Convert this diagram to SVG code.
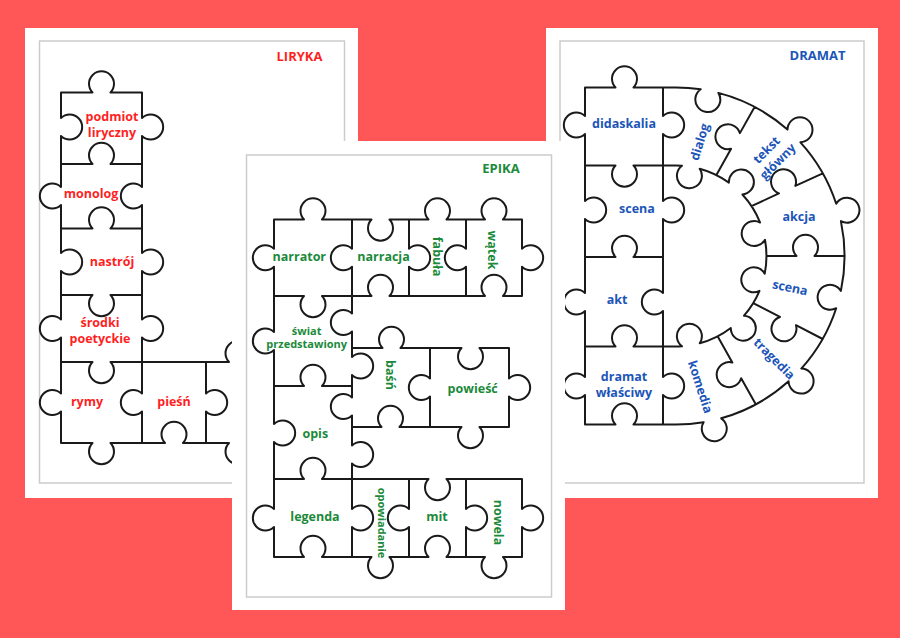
<svg xmlns="http://www.w3.org/2000/svg" width="900" height="638" viewBox="0 0 900 638">
<style>
.pg{fill:#ffffff}
.fr{fill:none;stroke:#cccccc;stroke-width:1.5}
.pz{fill:none;stroke:#1a1a1a;stroke-width:2;stroke-linejoin:round;stroke-linecap:round}
.t{font-family:"Open Sans","Noto Sans","DejaVu Sans",sans-serif;font-weight:700;font-size:12.5px;text-anchor:middle}
.h{font-size:13px}
.s{font-size:11px}
.r{fill:#ff1f1f}
.g{fill:#1b8a3a}
.b{fill:#1c55b8}
</style>
<rect width="900" height="638" fill="#ff5757"/>

<!-- LEFT PAGE: LIRYKA -->
<g id="page-liryka">
<rect class="pg" x="25" y="28" width="333" height="470"/>
<rect class="fr" x="39.5" y="41" width="305" height="442"/>
<g id="liryka-connectors">
<path class="pz" d="M61 92.5 V118 A12.5 12.5 0 1 1 61 136 V187 A12.5 12.5 0 1 0 61 205 V253 A12.5 12.5 0 1 1 61 271 V319.5 A12.5 12.5 0 1 0 61 337.5 V393.5 A12.5 12.5 0 1 0 61 411.5 V443
M142 92.5 V118 A12.5 12.5 0 1 1 142 136 V187 A12.5 12.5 0 1 0 142 205 V253 A12.5 12.5 0 1 1 142 271 V319.5 A12.5 12.5 0 1 1 142 337.5 V393.5 A12.5 12.5 0 1 0 142 411.5 V443
M206 362 V393.5 A12.5 12.5 0 1 1 206 411.5 V443
M61 92.5 H92.5 A12.5 12.5 0 1 1 110.5 92.5 H142
M61 164 H92.5 A12.5 12.5 0 1 1 110.5 164 H142
M61 228.5 H92.5 A12.5 12.5 0 1 1 110.5 228.5 H142
M61 295 H92.5 A12.5 12.5 0 1 0 110.5 295 H142
M61 362 H92.5 A12.5 12.5 0 1 0 110.5 362 H229 A12.5 12.5 0 1 1 247 362 H262
M61 443 H92.5 A12.5 12.5 0 1 0 110.5 443 H165 A12.5 12.5 0 1 1 183 443 H229 A12.5 12.5 0 1 0 247 443 H262"/>
</g>
<text class="t h r" x="299.5" y="61">LIRYKA</text>
<g id="liryka-podmiot"><text class="t r" x="112" y="121">podmiot</text><text class="t r" x="112" y="136.5">liryczny</text></g>
<g id="liryka-monolog"><text class="t r" x="91" y="198.3">monolog</text></g>
<g id="liryka-nastroj"><text class="t r" x="112" y="266">nastrój</text></g>
<g id="liryka-srodki"><text class="t r" x="100" y="327">środki</text><text class="t r" x="100" y="343">poetyckie</text></g>
<g id="liryka-rymy"><text class="t r" x="87" y="405.7">rymy</text></g>
<g id="liryka-piesn"><text class="t r" x="174" y="405.7">pieśń</text></g>
</g>

<!-- RIGHT PAGE: DRAMAT -->
<g id="page-dramat">
<rect class="pg" x="546" y="28" width="332" height="470"/>
<rect class="fr" x="560" y="41" width="304" height="442"/>
<g id="dramat-connectors">
<path class="pz" d="M585 87.5 V116 A12.5 12.5 0 1 0 585 134 V201 A12.5 12.5 0 1 1 585 219 V293 A12.5 12.5 0 1 0 585 311 V377 A12.5 12.5 0 1 0 585 395 V424.5
M663 87.5 V116 A12.5 12.5 0 1 1 663 134 V201 A12.5 12.5 0 1 1 663 219 V293 A12.5 12.5 0 1 0 663 311 V377 A12.5 12.5 0 1 1 663 395 V424.5
M585 87.5 H615.5 A12.5 12.5 0 1 1 633.5 87.5 H663
M585 165.5 H615.5 A12.5 12.5 0 1 0 633.5 165.5 H663
M585 257 H615.5 A12.5 12.5 0 1 1 633.5 257 H663
M585 346.5 H615.5 A12.5 12.5 0 1 1 633.5 346.5 H663
M585 424.5 H615.5 A12.5 12.5 0 1 1 633.5 424.5 H663
M663 87.5 H676 A168.5 168.5 0 0 1 700.7 89.3 A12.5 12.5 0 1 0 718.4 92.9 A168.5 168.5 0 0 1 787.5 129.6 A12.5 12.5 0 1 1 800.4 142.3 A168.5 168.5 0 0 1 836.2 203.8 A12.5 12.5 0 1 1 840.9 221.1 A168.5 168.5 0 0 1 840.9 290.9 A12.5 12.5 0 1 0 836.2 308.2 A168.5 168.5 0 0 1 801.3 368.6 A12.5 12.5 0 1 1 788.6 381.35 A168.5 168.5 0 0 1 721.2 418.3 A12.5 12.5 0 1 1 703.6 422.2 A168.5 168.5 0 0 1 676 424.5 H663
M663 165.5 H676 A90.5 90.5 0 0 1 682 165.7 A12.5 12.5 0 1 0 699.7 168.7 A90.5 90.5 0 0 1 728.9 182.6 A12.5 12.5 0 1 1 742.4 194.5 A90.5 90.5 0 0 1 760.1 222.5 A12.5 12.5 0 1 0 765 239.8 A90.5 90.5 0 0 1 764.7 273.7 A12.5 12.5 0 1 0 759.5 290.9 A90.5 90.5 0 0 1 744 315.7 A12.5 12.5 0 1 1 730.8 328 A90.5 90.5 0 0 1 699.7 343.3 A12.5 12.5 0 1 0 682 346.3 A90.5 90.5 0 0 1 676 346.5 H663
M716.4 175 L731.09 148.83 A12.5 12.5 0 1 1 739.91 133.13 L754.6 106.95
M751.5 206.05 L778.97 193.44 A12.5 12.5 0 1 1 795.33 185.92 L822.8 173.3
M766.5 256 H796.5 A12.5 12.5 0 1 1 814.5 256 H844.5
M753.2 303.15 L779.95 316.95 A12.5 12.5 0 1 0 795.95 325.2 L822.7 339
M717.6 336.35 L732.34 362.54 A12.5 12.5 0 1 0 741.16 378.22 L755.9 404.4"/>
</g>
<text class="t h b" x="817.5" y="60">DRAMAT</text>
<g id="dramat-didaskalia"><text class="t b" x="624" y="128">didaskalia</text></g>
<g id="dramat-scena-1"><text class="t b" x="637" y="213">scena</text></g>
<g id="dramat-akt"><text class="t b" x="617" y="304">akt</text></g>
<g id="dramat-wlasciwy"><text class="t b" x="624" y="381">dramat</text><text class="t b" x="624" y="397">właściwy</text></g>
<g id="dramat-dialog" transform="translate(700 142) rotate(-73)"><text class="t b" x="0" y="4">dialog</text></g>
<g id="dramat-tekst" transform="translate(772 155.5) rotate(-45)"><text class="t b" x="0" y="-3.5">tekst</text><text class="t b" x="0" y="12.5">główny</text></g>
<g id="dramat-akcja"><text class="t b" x="799" y="221">akcja</text></g>
<g id="dramat-scena-2" transform="translate(790 288) rotate(12)"><text class="t b" x="0" y="4">scena</text></g>
<g id="dramat-tragedia" transform="translate(774 359) rotate(45)"><text class="t b" x="0" y="4">tragedia</text></g>
<g id="dramat-komedia" transform="translate(700 387) rotate(72)"><text class="t b" x="0" y="4">komedia</text></g>
</g>

<!-- MIDDLE PAGE: EPIKA -->
<g id="page-epika">
<rect class="pg" x="232" y="141" width="333" height="469"/>
<rect class="fr" x="246.5" y="155" width="305" height="442"/>
<g id="epika-connectors">
<path class="pz" d="M274 219.5 V248.75 A12.5 12.5 0 1 0 274 266.75 V332 A12.5 12.5 0 1 0 274 350 V424 A12.5 12.5 0 1 1 274 442 V509 A12.5 12.5 0 1 0 274 527 V557
M352 219.5 V248.75 A12.5 12.5 0 1 0 352 266.75 V313.5 A12.5 12.5 0 1 0 352 331.5 V357 A12.5 12.5 0 1 1 352 375 V397.5 A12.5 12.5 0 1 0 352 415.5 V445.5 A12.5 12.5 0 1 1 352 463.5 V509 A12.5 12.5 0 1 1 352 527 V557
M409 219.5 V248.75 A12.5 12.5 0 1 1 409 266.75 V296
M466 219.5 V248.75 A12.5 12.5 0 1 0 466 266.75 V296
M522 219.5 V248.75 A12.5 12.5 0 1 1 522 266.75 V296
M430 348 V378.5 A12.5 12.5 0 1 0 430 396.5 V427
M509 348 V378.5 A12.5 12.5 0 1 1 509 396.5 V427
M409 479 V509 A12.5 12.5 0 1 0 409 527 V557
M466 479 V509 A12.5 12.5 0 1 1 466 527 V557
M522 479 V509 A12.5 12.5 0 1 1 522 527 V557
M274 219.5 H304 A12.5 12.5 0 1 1 322 219.5 H371.5 A12.5 12.5 0 1 0 389.5 219.5 H428.5 A12.5 12.5 0 1 1 446.5 219.5 H485 A12.5 12.5 0 1 1 503 219.5 H522
M274 296 H304 A12.5 12.5 0 1 0 322 296 H371.5 A12.5 12.5 0 1 1 389.5 296 H485 A12.5 12.5 0 1 1 503 296 H522
M352 348 H382.5 A12.5 12.5 0 1 1 400.5 348 H461.5 A12.5 12.5 0 1 0 479.5 348 H509
M274 386 H304 A12.5 12.5 0 1 1 322 386 H352
M352 427 H381.5 A12.5 12.5 0 1 1 399.5 427 H461.5 A12.5 12.5 0 1 0 479.5 427 H509
M274 479 H304 A12.5 12.5 0 1 1 322 479 H428.5 A12.5 12.5 0 1 0 446.5 479 H522
M274 557 H304 A12.5 12.5 0 1 1 322 557 H371.5 A12.5 12.5 0 1 0 389.5 557 H428.5 A12.5 12.5 0 1 1 446.5 557 H485 A12.5 12.5 0 1 0 503 557 H522"/>
</g>
<text class="t h g" x="501" y="173">EPIKA</text>
<g id="epika-narrator"><text class="t g" x="299.3" y="260.7">narrator</text></g>
<g id="epika-narracja"><text class="t g" x="383.5" y="260.7">narracja</text></g>
<g id="epika-fabula" transform="translate(436.7 256.7) rotate(90)"><text class="t g" x="0" y="4">fabuła</text></g>
<g id="epika-watek" transform="translate(491.7 250) rotate(90)"><text class="t g" x="0" y="4">wątek</text></g>
<g id="epika-swiat"><text class="t s g" x="306.7" y="334.5">świat</text><text class="t s g" x="306.7" y="348">przedstawiony</text></g>
<g id="epika-basn" transform="translate(390 375) rotate(90)"><text class="t g" x="0" y="4">baśń</text></g>
<g id="epika-powiesc"><text class="t g" x="472.7" y="392.7">powieść</text></g>
<g id="epika-opis"><text class="t g" x="315.3" y="437.7">opis</text></g>
<g id="epika-legenda"><text class="t g" x="315" y="520.7">legenda</text></g>
<g id="epika-opowiadanie" transform="translate(381.7 523) rotate(90)"><text class="t s g" x="0" y="4">opowiadanie</text></g>
<g id="epika-mit"><text class="t g" x="437" y="521">mit</text></g>
<g id="epika-nowela" transform="translate(498 522.5) rotate(90)"><text class="t g" x="0" y="4">nowela</text></g>
</g>
</svg>
